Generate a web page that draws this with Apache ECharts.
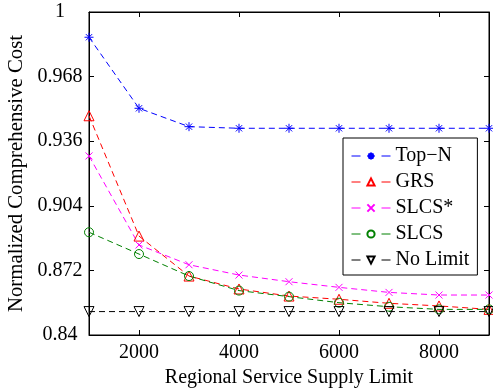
<!DOCTYPE html>
<html>
<head>
<meta charset="utf-8">
<script src="https://cdn.jsdelivr.net/npm/echarts@6/dist/echarts.min.js"></script>
<style>
  html, body { margin: 0; padding: 0; background: #fff; }
  #chart { width: 493px; height: 388px; }
</style>
</head>
<body>
<div id="chart"></div>
<script>
// x 轴：区域服务供给上限
const supplyLimit = [1000, 2000, 3000, 4000, 5000, 6000, 7000, 8000, 9000];
const xTicks = [2000, 4000, 6000, 8000];
const yTicks = [0.84, 0.872, 0.904, 0.936, 0.968, 1];

// 各算法的归一化综合成本
const topN = [0.9875, 0.9523, 0.9432, 0.9424, 0.9424, 0.9424, 0.9424, 0.9424, 0.9424];
const grs = [0.9486, 0.889, 0.8692, 0.8628, 0.8593, 0.8577, 0.8557, 0.8544, 0.8527];
const slcsStar = [0.9287, 0.8846, 0.8748, 0.8697, 0.8664, 0.8636, 0.8611, 0.8598, 0.8598];
const slcs = [0.8909, 0.8801, 0.8692, 0.862, 0.859, 0.856, 0.854, 0.8527, 0.8527];
const noLimit = [0.8516, 0.8516, 0.8516, 0.8516, 0.8516, 0.8516, 0.8516, 0.8516, 0.8516];

const FONT = 'Liberation Serif';

// 标记形状
const STAR = 'path://M0,-10 L0,10 M-10,0 L10,0 M-7,-7 L7,7 M-7,7 L7,-7';
const CROSS = 'path://M-7,-7 L7,7 M-7,7 L7,-7';
const TRI_UP = 'path://M0,-10 L8.66,5 L-8.66,5 Z';
const TRI_DOWN = 'path://M0,10 L8.66,-5 L-8.66,-5 Z';
const CIRCLE = 'circle';

function makeSeries(name, data, color, symbol, size) {
  return {
    name: name,
    type: 'line',
    data: supplyLimit.map((x, i) => [x, data[i]]),
    symbol: symbol,
    symbolSize: size,
    showSymbol: true,
    lineStyle: { color: color, width: 1, type: [6, 4] },
    itemStyle: { color: 'rgba(0,0,0,0)', borderColor: color, borderWidth: 1 },
    emphasis: { disabled: true },
    animation: false
  };
}

const legendNames = ['Top\u2212N', 'GRS', 'SLCS*', 'SLCS', 'No Limit'];

const chart = echarts.init(document.getElementById('chart'));
chart.setOption({
  backgroundColor: '#fff',
  textStyle: { fontFamily: FONT },
  grid: {
    left: 89, right: 4, top: 12, bottom: 53,
    outerBoundsMode: 'none',
    show: true, borderColor: '#000', borderWidth: 1
  },
  legend: {
    orient: 'vertical',
    left: 343, top: 138,
    padding: [8, 8, 5, 8],
    itemWidth: 39, itemHeight: 9,
    itemGap: 6,
    backgroundColor: '#fff',
    borderColor: '#000', borderWidth: 1,
    // 图例里的短划线：两端各一段
    lineStyle: { type: [9, 21], width: 1 },
    textStyle: { fontFamily: FONT, fontSize: 20, color: '#000' },
    data: legendNames
  },
  xAxis: [{
    type: 'value',
    min: 1000, max: 9000,
    name: 'Regional Service Supply Limit',
    nameLocation: 'middle',
    nameGap: 29,
    nameTextStyle: { fontFamily: FONT, fontSize: 20, color: '#000' },
    axisLine: { lineStyle: { color: '#000' } },
    axisTick: { inside: true, length: 5, customValues: xTicks, lineStyle: { color: '#000' } },
    axisLabel: {
      customValues: xTicks, fontFamily: FONT, fontSize: 20, color: '#000', margin: 8,
      formatter: v => String(v)
    },
    splitLine: { show: false }
  }, {
    type: 'value',
    position: 'top',
    min: 1000, max: 9000,
    axisLine: { lineStyle: { color: '#000' } },
    axisTick: { inside: true, length: 5, customValues: xTicks, lineStyle: { color: '#000' } },
    axisLabel: { show: false },
    splitLine: { show: false }
  }],
  yAxis: [{
    type: 'value',
    min: 0.84, max: 1,
    name: 'Normalized Comprehensive Cost',
    nameLocation: 'middle',
    nameGap: 55,
    nameTextStyle: { fontFamily: FONT, fontSize: 20.8, color: '#000' },
    axisLine: { show: true, lineStyle: { color: '#000' } },
    axisTick: { show: true, inside: true, length: 5, customValues: yTicks, lineStyle: { color: '#000' } },
    axisLabel: {
      customValues: yTicks,
      fontFamily: FONT, fontSize: 20, color: '#000',
      margin: 29, align: 'center',
      formatter: v => String(+v.toFixed(3))
    },
    splitLine: { show: false }
  }, {
    type: 'value',
    position: 'right',
    min: 0.84, max: 1,
    axisLine: { show: true, lineStyle: { color: '#000' } },
    axisTick: { show: true, inside: true, length: 5, customValues: yTicks, lineStyle: { color: '#000' } },
    axisLabel: { show: false },
    splitLine: { show: false }
  }],
  series: [
    makeSeries('Top\u2212N', topN, '#0000ff', STAR, 9),
    makeSeries('GRS', grs, '#ff0000', TRI_UP, 10),
    makeSeries('SLCS*', slcsStar, '#ff00ff', CROSS, 7),
    makeSeries('SLCS', slcs, '#008000', CIRCLE, 9),
    makeSeries('No Limit', noLimit, '#000000', TRI_DOWN, 10)
  ]
});
</script>
</body>
</html>
